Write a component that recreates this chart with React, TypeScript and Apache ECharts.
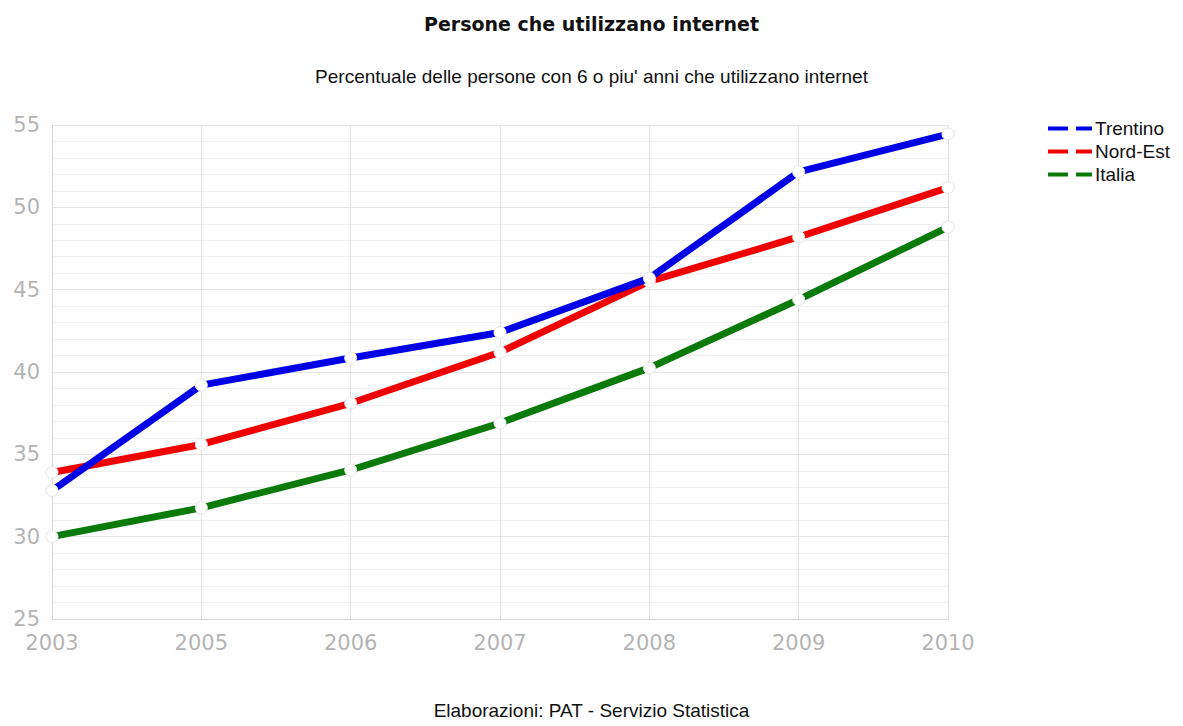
import React, { useEffect, useRef } from "react";
import * as echarts from "echarts";

const years = ["2003", "2005", "2006", "2007", "2008", "2009", "2010"];
const trentino = [32.8, 39.2, 40.85, 42.4, 45.7, 52.15, 54.45];
const nordEst = [33.9, 35.6, 38.1, 41.2, 45.5, 48.2, 51.2];
const italia = [30.0, 31.75, 34.05, 36.9, 40.25, 44.4, 48.8];

const seriesNames = ["Trentino", "Nord-Est", "Italia"];
const seriesColors = ["#0000e6", "#f00000", "#0a7a0a"];

const titleText = "Persone che utilizzano internet";
const subtitleText = "Percentuale delle persone con 6 o piu' anni che utilizzano internet";
const footerText = "Elaborazioni: PAT - Servizio Statistica";

export default function App() {
  const ref = useRef<HTMLDivElement>(null);

  useEffect(() => {
    if (!ref.current) return;
    const chart = echarts.init(ref.current, undefined, { renderer: "svg" });
    const values = [trentino, nordEst, italia];

    chart.setOption({
      animation: false,
      backgroundColor: "#ffffff",
      title: [
        {
          text: titleText,
          left: "center",
          top: 9,
          textStyle: { fontFamily: "DejaVu Sans", fontWeight: "bold", fontSize: 19, color: "#111" },
        },
        {
          text: subtitleText,
          left: "center",
          top: 62,
          textStyle: { fontFamily: "Liberation Sans", fontWeight: "normal", fontSize: 19, color: "#111" },
        },
        {
          text: footerText,
          left: "center",
          top: 700,
          padding: 0,
          textStyle: { fontFamily: "Liberation Sans", fontWeight: "normal", fontSize: 19, lineHeight: 20, color: "#111" },
        },
      ],
      legend: {
        orient: "vertical",
        left: 1043,
        top: 114,
        icon: "path://M0,0H20V4H0Z M28,0H44V4H28Z",
        itemWidth: 44,
        itemHeight: 5,
        itemGap: 4,
        textStyle: { fontFamily: "Liberation Sans", fontSize: 19, color: "#111", lineHeight: 18, padding: [0, 0, 0, -2] },
        data: seriesNames.map((name, i) => ({
          name,
          itemStyle: { color: seriesColors[i], borderWidth: 0 },
        })),
      },
      grid: { left: 52, right: 235, top: 125, bottom: 107, containLabel: false },
      xAxis: {
        type: "category",
        data: years,
        boundaryGap: false,
        axisLine: { lineStyle: { color: "#d8d8d8" } },
        axisTick: { show: false },
        axisLabel: { fontFamily: "DejaVu Sans", fontSize: 21, color: "#b4b4b4", margin: 13 },
        splitLine: { show: true, lineStyle: { color: "#e2e2e2" } },
      },
      yAxis: {
        type: "value",
        min: 25,
        max: 55,
        interval: 5,
        axisLine: { show: true, lineStyle: { color: "#d8d8d8" } },
        axisTick: { show: false },
        axisLabel: { fontFamily: "DejaVu Sans", fontSize: 21, color: "#b4b4b4", margin: 12 },
        splitLine: { show: true, lineStyle: { color: "#e4e4e4" } },
        minorTick: { show: false, splitNumber: 5 },
        minorSplitLine: { show: true, lineStyle: { color: "#f1f1f1" } },
      },
      series: seriesNames.map((name, i) => ({
        name,
        type: "line",
        data: values[i],
        z: i === 0 ? 4 : 3,
        symbol: "circle",
        symbolSize: 12,
        showSymbol: true,
        color: seriesColors[i],
        lineStyle: { color: seriesColors[i], width: 7 },
        itemStyle: { color: "#ffffff", borderColor: "#e6e6e6", borderWidth: 1 },
      })),
    });

    return () => chart.dispose();
  }, []);

  return (
    <div
      ref={ref}
      style={{ position: "fixed", left: 0, top: 0, width: 1183, height: 726 }}
    />
  );
}
